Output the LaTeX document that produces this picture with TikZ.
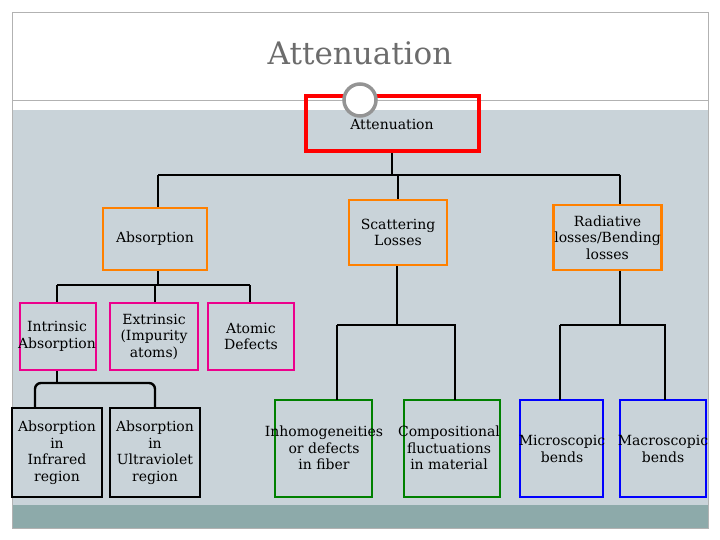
\documentclass[tikz,border=0pt]{standalone}
\usepackage{fontspec}
\setmainfont{DejaVu Serif}
\definecolor{bgb}{HTML}{C9D3D9}
\definecolor{strip}{HTML}{8DAAAA}
\begin{document}
\begin{tikzpicture}[x=1pt,y=-1pt,
  bx/.style={draw=#1,line width=2.5pt,align=center,font=\fontsize{14}{16.5}\selectfont,inner sep=1pt},
  ln/.style={line width=2.4pt,black}]
\useasboundingbox (0,0) rectangle (720,540);
\fill[white] (0,0) rectangle (720,540);
\fill[bgb] (12,110) rectangle (708,505);
\fill[strip] (12,505) rectangle (708,528);
\draw[gray!60,line width=0.6pt] (12,12) rectangle (708,528);
\draw[gray!60,line width=0.8pt] (12,100) -- (708,100);
\node[text=gray!85!black,font=\fontsize{31}{33}\selectfont] (title) at (360,53) {Attenuation};
% red box
\node[bx=red,line width=4pt,minimum width=173pt,minimum height=55pt] (att) at (392.5,123.5) {};
\draw[gray!80!black!70,line width=3.5pt,fill=white] (360,100) circle (16);
\node[font=\fontsize{14}{16.5}\selectfont] (attt) at (392,124) {Attenuation};
% level 2
\node[bx=orange,minimum width=104pt,minimum height=62pt] (abs) at (155,239) {Absorption};
\node[bx=orange,minimum width=98pt,minimum height=65pt] (sca) at (398,232.5) {Scattering\\Losses};
\node[bx=orange,minimum width=105pt,minimum height=65pt] (rad) at (607.5,237.5) {Radiative\\losses/Bending\\losses};
% level 3
\node[bx=magenta,minimum width=76pt,minimum height=67pt] (int) at (58,336.5) {};
\node[font=\fontsize{14}{16.5}\selectfont,align=center] (intt) at (57,336.5) {Intrinsic\\Absorption};
\node[bx=magenta,minimum width=88pt,minimum height=67pt] (ext) at (154,336.5) {Extrinsic\\(Impurity\\atoms)};
\node[bx=magenta,minimum width=86pt,minimum height=67pt] (ato) at (251,336.5) {Atomic\\Defects};
% level 4
\node[bx=black,minimum width=90pt,minimum height=89pt] (ir) at (57,452.5) {Absorption\\in\\Infrared\\region};
\node[bx=black,minimum width=90pt,minimum height=89pt] (uv) at (155,452.5) {Absorption\\in\\Ultraviolet\\region};
\node[bx=green!50!black,minimum width=97pt,minimum height=97pt] (inh) at (323.5,448.5) {};
\node[bx=green!50!black,minimum width=96pt,minimum height=97pt] (com) at (452,448.5) {};
\node[bx=blue,minimum width=83pt,minimum height=97pt] (mic) at (561.5,448.5) {};
\node[bx=blue,minimum width=86pt,minimum height=97pt] (mac) at (663,448.5) {};
\tikzset{tx/.style={font=\fontsize{14}{16.5}\selectfont,align=center}}
\node[tx] (inht) at (324,448) {Inhomogeneities\\or defects\\in fiber};
\node[tx] (comt) at (449,448) {Compositional\\fluctuations\\in material};
\node[tx] (mict) at (562,449) {Microscopic\\bends};
\node[tx] (mact) at (663,449) {Macroscopic\\bends};
% connectors
\coordinate (j1) at (392,175);
\draw[ln] (att.south -| j1) -- (j1);
\draw[ln] (158,175) -- (620,175);
\draw[ln] (158,175) -- (abs.north -| 158,0);
\draw[ln] (sca.north |- j1) -- (sca.north);
\draw[ln] (620,175) -- (rad.north -| 620,0);
\coordinate (j2) at (158,285);
\draw[ln] (abs.south -| j2) -- (j2);
\draw[ln] (57,285) -- (250,285);
\draw[ln] (57,285) -- (int.north -| 57,0);
\draw[ln] (155,285) -- (ext.north -| 155,0);
\draw[ln] (250,285) -- (ato.north -| 250,0);
\coordinate (j3) at (57,383);
\draw[ln] (int.south -| j3) -- (j3);
\draw[ln,rounded corners=6pt] (35,408) -- (35,383) -- (155,383) -- (155,408);
\coordinate (j4) at (397,325);
\draw[ln] (sca.south -| j4) -- (j4);
\draw[ln] (337,325) -- (455,325) -- (455,400);
\draw[ln] (337,325) -- (337,400);
\coordinate (j5) at (620,325);
\draw[ln] (rad.south -| j5) -- (j5);
\draw[ln] (560,325) -- (665,325) -- (665,400);
\draw[ln] (560,325) -- (560,400);
\end{tikzpicture}
\end{document}
